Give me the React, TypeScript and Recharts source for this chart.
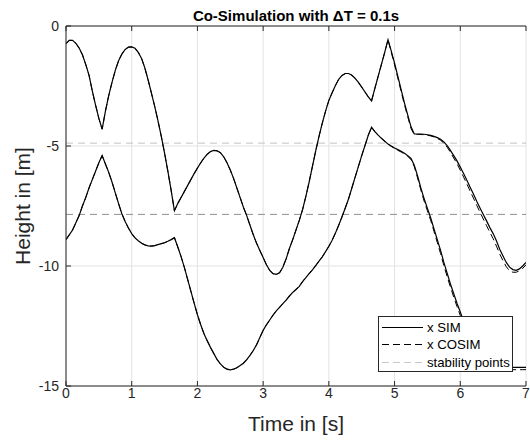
import { LineChart, Line, XAxis, YAxis, CartesianGrid, ReferenceLine, Legend } from "recharts"

const fontFamily = '"Liberation Sans", Arial, Helvetica, sans-serif'

// sample times [s]
const time = [
  0, 0.05, 0.1, 0.15, 0.2, 0.25, 0.3, 0.35, 0.4, 0.45,
  0.5, 0.55, 0.6, 0.65, 0.7, 0.75, 0.8, 0.85, 0.9, 0.95,
  1, 1.05, 1.1, 1.15, 1.2, 1.25, 1.3, 1.35, 1.4, 1.45,
  1.5, 1.55, 1.6, 1.65, 1.7, 1.75, 1.8, 1.85, 1.9, 1.95,
  2, 2.05, 2.1, 2.15, 2.2, 2.25, 2.3, 2.35, 2.4, 2.45,
  2.5, 2.55, 2.6, 2.65, 2.7, 2.75, 2.8, 2.85, 2.9, 2.95,
  3, 3.05, 3.1, 3.15, 3.2, 3.25, 3.3, 3.35, 3.4, 3.45,
  3.5, 3.55, 3.6, 3.65, 3.7, 3.75, 3.8, 3.85, 3.9, 3.95,
  4, 4.05, 4.1, 4.15, 4.2, 4.25, 4.3, 4.35, 4.4, 4.45,
  4.5, 4.55, 4.6, 4.65, 4.7, 4.75, 4.8, 4.85, 4.9, 4.95,
  5, 5.05, 5.1, 5.15, 5.2, 5.25, 5.3, 5.35, 5.4, 5.45,
  5.5, 5.55, 5.6, 5.65, 5.7, 5.75, 5.8, 5.85, 5.9, 5.95,
  6, 6.05, 6.1, 6.15, 6.2, 6.25, 6.3, 6.35, 6.4, 6.45,
  6.5, 6.55, 6.6, 6.65, 6.7, 6.75, 6.8, 6.85, 6.9, 6.95,
  7,
]

// upper mass, simulation
const x1Sim = [
  -0.73, -0.6, -0.6, -0.72, -0.92, -1.2, -1.6, -2.05, -2.7, -3.3,
  -3.85, -4.3, -3.55, -2.9, -2.35, -1.85, -1.45, -1.17, -0.98, -0.88,
  -0.87, -0.93, -1.1, -1.35, -1.75, -2.25, -2.8, -3.35, -3.95, -4.6,
  -5.3, -6.05, -6.85, -7.7, -7.4, -7.15, -6.9, -6.65, -6.4, -6.15,
  -5.92, -5.7, -5.5, -5.34, -5.23, -5.18, -5.2, -5.28, -5.45, -5.7,
  -6.0, -6.35, -6.75, -7.15, -7.55, -7.9, -8.3, -8.7, -9.05, -9.35,
  -9.65, -9.95, -10.18, -10.32, -10.35, -10.28, -10.05, -9.7, -9.27, -8.9,
  -8.5, -8.1, -7.65, -7.1, -6.5, -5.85, -5.2, -4.6, -4.05, -3.55,
  -3.1, -2.78, -2.48, -2.22, -2.06, -1.98, -1.98, -2.05, -2.18, -2.35,
  -2.55, -2.75, -2.95, -3.12, -2.6, -2.1, -1.6, -1.1, -0.57, -1.05,
  -1.55, -2.1, -2.65, -3.2, -3.7, -4.2, -4.5, -4.5, -4.5, -4.51,
  -4.53, -4.56, -4.6, -4.65, -4.72, -4.83, -4.98, -5.18, -5.4, -5.62,
  -5.88, -6.15, -6.43, -6.72, -7.0, -7.3, -7.58, -7.85, -8.12, -8.4,
  -8.65, -8.95, -9.3, -9.58, -9.85, -10.05, -10.15, -10.18, -10.12, -10.0,
  -9.85,
]

// upper mass, co-simulation
const x1Cosim = [
  -0.73, -0.6, -0.6, -0.72, -0.92, -1.2, -1.6, -2.05, -2.7, -3.3,
  -3.85, -4.3, -3.55, -2.9, -2.35, -1.85, -1.45, -1.17, -0.98, -0.88,
  -0.87, -0.93, -1.1, -1.35, -1.75, -2.25, -2.8, -3.35, -3.95, -4.6,
  -5.3, -6.05, -6.85, -7.7, -7.4, -7.15, -6.9, -6.65, -6.4, -6.15,
  -5.92, -5.7, -5.5, -5.34, -5.23, -5.18, -5.2, -5.28, -5.45, -5.7,
  -6.0, -6.35, -6.75, -7.15, -7.55, -7.9, -8.3, -8.7, -9.05, -9.35,
  -9.65, -9.95, -10.18, -10.32, -10.35, -10.28, -10.05, -9.7, -9.27, -8.9,
  -8.5, -8.1, -7.65, -7.1, -6.5, -5.85, -5.2, -4.6, -4.05, -3.55,
  -3.1, -2.78, -2.48, -2.22, -2.06, -1.98, -1.98, -2.05, -2.18, -2.35,
  -2.55, -2.75, -2.95, -3.12, -2.6, -2.1, -1.6, -1.1, -0.57, -1.1,
  -1.62, -2.18, -2.73, -3.28, -3.78, -4.27, -4.53, -4.52, -4.52, -4.53,
  -4.55, -4.58, -4.62, -4.68, -4.76, -4.88, -5.05, -5.26, -5.5, -5.74,
  -6.01, -6.29, -6.58, -6.88, -7.17, -7.47, -7.76, -8.04, -8.32, -8.6,
  -8.86, -9.17, -9.5, -9.78, -10.03, -10.2, -10.26, -10.26, -10.2, -10.1,
  -9.95,
]

// lower mass, simulation
const x2Sim = [
  -8.9, -8.7, -8.5, -8.2, -7.9, -7.5, -7.15, -6.75, -6.4, -6.05,
  -5.7, -5.4, -5.75, -6.1, -6.5, -6.95, -7.4, -7.82, -8.15, -8.42,
  -8.65, -8.83, -8.95, -9.05, -9.12, -9.16, -9.17, -9.15, -9.11, -9.07,
  -9.03, -8.97, -8.9, -8.82, -9.2, -9.6, -10.05, -10.55, -11.05, -11.55,
  -12.03, -12.45, -12.82, -13.12, -13.4, -13.65, -13.9, -14.08, -14.22, -14.3,
  -14.33, -14.3, -14.24, -14.15, -14.05, -13.9, -13.72, -13.52, -13.28, -12.98,
  -12.68, -12.45, -12.25, -12.05, -11.87, -11.72, -11.57, -11.42, -11.25, -11.1,
  -10.98, -10.85, -10.65, -10.48, -10.32, -10.16, -9.98, -9.8, -9.62, -9.4,
  -9.18, -8.93, -8.63, -8.3, -7.95, -7.58, -7.2, -6.75, -6.3, -5.85,
  -5.4, -4.98, -4.55, -4.22, -4.4, -4.55, -4.68, -4.8, -4.92, -5.0,
  -5.08, -5.15, -5.22, -5.3, -5.4, -5.52, -5.8, -6.25, -6.75, -7.2,
  -7.6, -8.0, -8.45, -8.9, -9.35, -9.85, -10.3, -10.75, -11.15, -11.55,
  -11.92, -12.3, -12.68, -13.05, -13.4, -13.72, -13.98, -14.15, -14.22, -14.22,
  -14.22, -14.22, -14.22, -14.22, -14.22, -14.22, -14.22, -14.22, -14.22, -14.22,
  -14.22,
]

// lower mass, co-simulation
const x2Cosim = [
  -8.9, -8.7, -8.5, -8.2, -7.9, -7.5, -7.15, -6.75, -6.4, -6.05,
  -5.7, -5.4, -5.75, -6.1, -6.5, -6.95, -7.4, -7.82, -8.15, -8.42,
  -8.65, -8.83, -8.95, -9.05, -9.12, -9.16, -9.17, -9.15, -9.11, -9.07,
  -9.03, -8.97, -8.9, -8.82, -9.2, -9.6, -10.05, -10.55, -11.05, -11.55,
  -12.03, -12.45, -12.82, -13.12, -13.4, -13.65, -13.9, -14.08, -14.22, -14.3,
  -14.33, -14.3, -14.24, -14.15, -14.05, -13.9, -13.72, -13.52, -13.28, -12.98,
  -12.68, -12.45, -12.25, -12.05, -11.87, -11.72, -11.57, -11.42, -11.25, -11.1,
  -10.98, -10.85, -10.65, -10.48, -10.32, -10.16, -9.98, -9.8, -9.62, -9.4,
  -9.18, -8.93, -8.63, -8.3, -7.95, -7.58, -7.2, -6.75, -6.3, -5.85,
  -5.4, -4.98, -4.55, -4.22, -4.4, -4.55, -4.68, -4.8, -4.92, -5.02,
  -5.1, -5.18, -5.25, -5.33, -5.43, -5.56, -5.86, -6.33, -6.83, -7.3,
  -7.7, -8.1, -8.56, -9.02, -9.48, -9.98, -10.44, -10.88, -11.29, -11.69,
  -12.06, -12.44, -12.82, -13.19, -13.53, -13.84, -14.08, -14.23, -14.3, -14.32,
  -14.32, -14.32, -14.32, -14.32, -14.32, -14.32, -14.32, -14.32, -14.32, -14.32,
  -14.32,
]

const stabilityPoints = [-4.88, -7.85]
const stabilityColors = ["#c2c2c2", "#909090"]

const xTicks = [0, 1, 2, 3, 4, 5, 6, 7]
const yTicks = [-15, -10, -5, 0]

const legendItems = [
  { label: "x SIM", color: "#000000", dash: undefined },
  { label: "x COSIM", color: "#000000", dash: "7 4" },
  { label: "stability points", color: "#c8c8c8", dash: "7 4" },
]

const data = time.map((t, i) => ({
  t,
  x1Sim: x1Sim[i],
  x2Sim: x2Sim[i],
  x1Cosim: x1Cosim[i],
  x2Cosim: x2Cosim[i],
}))

function LegendBox() {
  return (
    <div
      style={{
        position: "relative",
        width: 135,
        height: 56,
        boxSizing: "border-box",
        border: "1px solid #262626",
        background: "#ffffff",
        fontFamily,
        fontSize: 13.2,
        color: "#000000",
      }}
    >
      {legendItems.map((item, i) => (
        <div
          key={item.label}
          style={{ position: "absolute", left: 0, top: 1.8 + i * 17.5, height: 17, display: "flex", alignItems: "center", whiteSpace: "nowrap" }}
        >
          <svg width={48} height={17} style={{ display: "block" }}>
            <line x1={3} x2={44} y1={8.5} y2={8.5} stroke={item.color} strokeWidth={1} strokeDasharray={item.dash} />
          </svg>
          <span>{item.label}</span>
        </div>
      ))}
    </div>
  )
}

const axisColor = "#262626"

export default function App() {
  return (
    <div style={{ position: "absolute", left: 0, top: 0, background: "#ffffff" }}>
      <LineChart width={530} height={441} data={data} margin={{ top: 0, right: 4, bottom: 0, left: 0 }} style={{ fontFamily }}>
        <CartesianGrid stroke="#e3e3e3" strokeWidth={1} />
        <XAxis
          dataKey="t"
          type="number"
          domain={[0, 7]}
          ticks={xTicks}
          interval={0}
          allowDataOverflow
          height={55}
          tickSize={-5}
          tickMargin={7}
          stroke={axisColor}
          tick={{ fontSize: 14, fill: axisColor }}
          label={{ value: "Time in [s]", position: "insideBottom", offset: 10, fontSize: 21, fill: axisColor }}
        />
        <XAxis
          xAxisId="top"
          dataKey="t"
          orientation="top"
          type="number"
          domain={[0, 7]}
          ticks={xTicks}
          interval={0}
          allowDataOverflow
          height={26}
          tickSize={-5}
          tickFormatter={() => ""}
          stroke={axisColor}
          label={{ value: "Co-Simulation with ΔT = 0.1s", position: "insideTop", offset: 10, fontSize: 15, fontWeight: "bold", fill: "#000000" }}
        />
        <YAxis
          type="number"
          domain={[-15, 0]}
          ticks={yTicks}
          interval={0}
          allowDataOverflow
          width={66}
          tickSize={-5}
          tickMargin={12}
          stroke={axisColor}
          tick={{ fontSize: 14, fill: axisColor }}
          label={{ value: "Height in [m]", angle: -90, position: "insideLeft", offset: 23, fontSize: 21, fill: axisColor, style: { textAnchor: "middle" } }}
        />
        <YAxis
          yAxisId="right"
          orientation="right"
          type="number"
          domain={[-15, 0]}
          ticks={yTicks}
          interval={0}
          allowDataOverflow
          width={0}
          tickSize={-5}
          tickFormatter={() => ""}
          stroke={axisColor}
        />
        {stabilityPoints.map((v, i) => (
          <ReferenceLine key={v} y={v} stroke={stabilityColors[i]} strokeWidth={1} strokeDasharray="7 5" />
        ))}
        <Line dataKey="x1Cosim" type="linear" stroke="#000000" strokeWidth={1} strokeDasharray="7 4" dot={false} isAnimationActive={false} />
        <Line dataKey="x2Cosim" type="linear" stroke="#000000" strokeWidth={1} strokeDasharray="7 4" dot={false} isAnimationActive={false} />
        <Line dataKey="x1Sim" type="linear" stroke="#000000" strokeWidth={1.2} dot={false} isAnimationActive={false} />
        <Line dataKey="x2Sim" type="linear" stroke="#000000" strokeWidth={1.2} dot={false} isAnimationActive={false} />
        <Legend
          layout="vertical"
          align="center"
          verticalAlign="middle"
          wrapperStyle={{ left: 378, top: 316, width: 135, height: 56 }}
          content={() => <LegendBox />}
        />
      </LineChart>
    </div>
  )
}
